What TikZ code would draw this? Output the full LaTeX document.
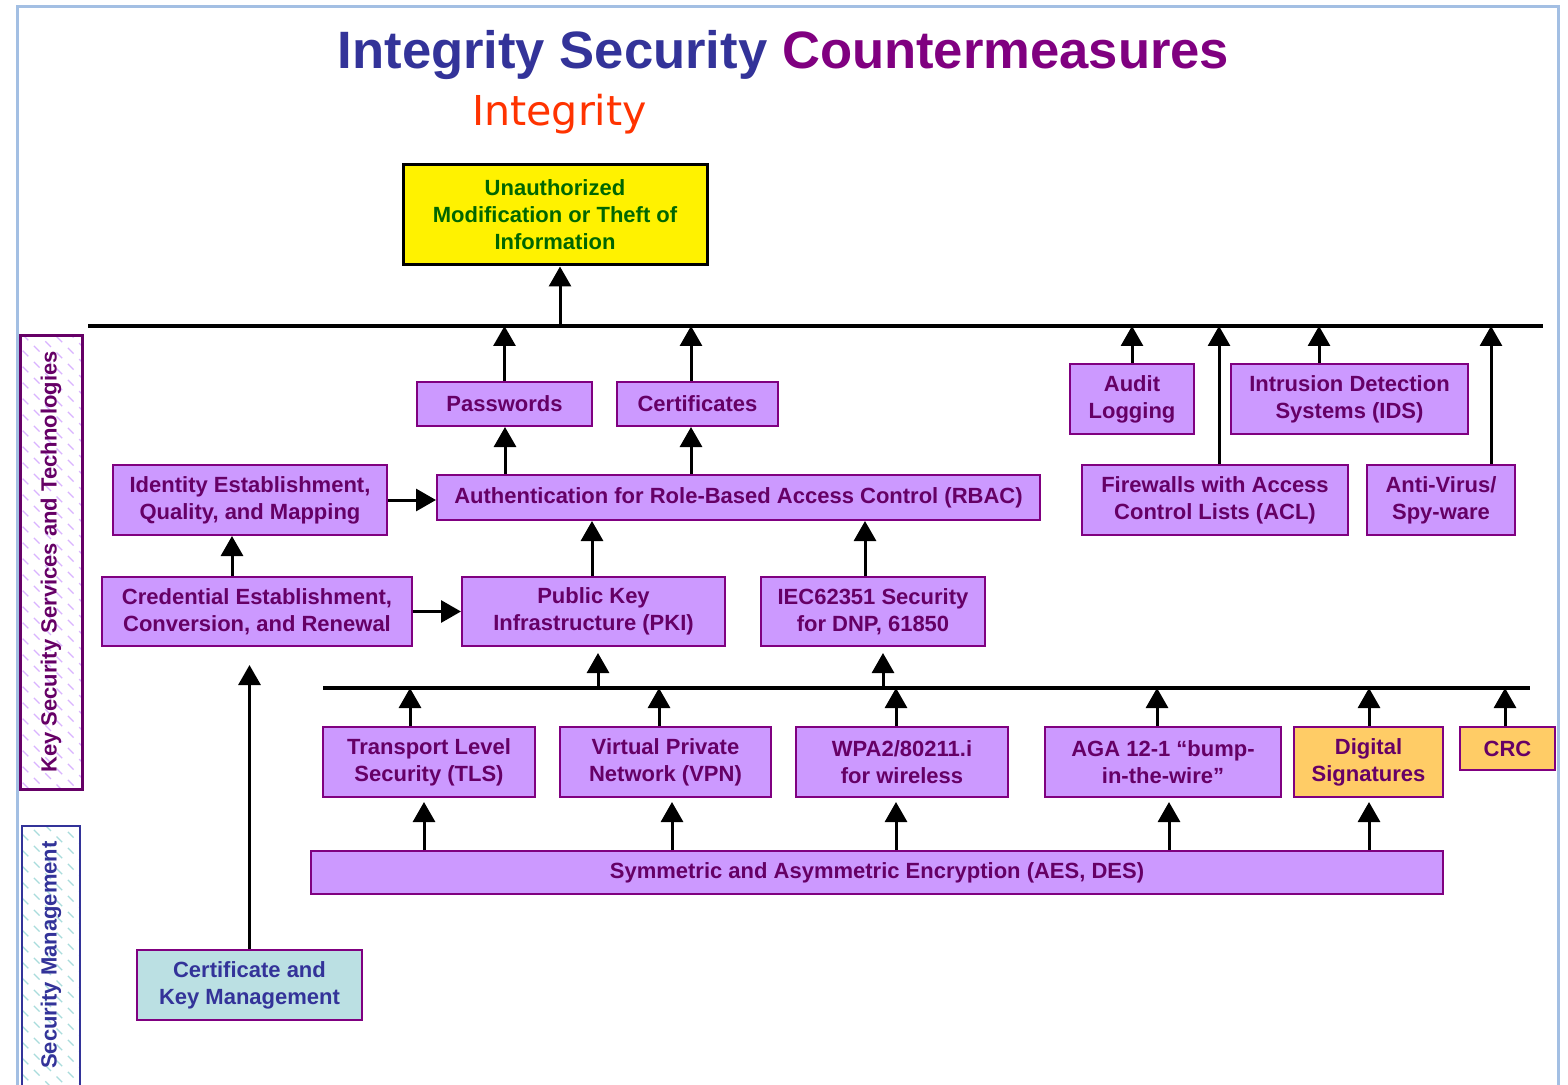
\documentclass[tikz,border=0pt]{standalone}
\usepackage{fontspec}
\setmainfont{Liberation Sans}
\newfontfamily\subfont{DejaVu Sans}
\usetikzlibrary{arrows.meta}
\definecolor{boxfill}{HTML}{CC99FF}
\definecolor{boxline}{HTML}{800080}
\definecolor{boxtext}{HTML}{660066}
\definecolor{tgtgreen}{HTML}{006600}
\definecolor{titleblue}{HTML}{333399}
\definecolor{titlepurple}{HTML}{800080}
\definecolor{suborange}{HTML}{FF3300}
\definecolor{framecol}{HTML}{A3BFE3}
\definecolor{ckmfill}{HTML}{BBE0E3}
\definecolor{digfill}{HTML}{FFCC66}
\definecolor{hatchpurple}{HTML}{D9B3FF}
\definecolor{hatchteal}{HTML}{A8DCDC}
\begin{document}
\begin{tikzpicture}[x=0.5pt,y=-0.5pt,
  boxfont/.style={font=\bfseries\fontsize{11}{13.5}\selectfont},
  box/.style={draw=boxline, fill=boxfill, line width=1pt, text=boxtext, boxfont, align=center, inner sep=0pt},
  orangebox/.style={box, fill=digfill},
  arr/.style={line width=1.5pt, -{Triangle[length=10pt,width=11pt]}},
  busline/.style={line width=2pt},
  hatch/.style={line width=0.7pt, dash pattern=on 4pt off 4pt},
]
\useasboundingbox (0,0) rectangle (1568,1085);
\fill[white] (0,0) rectangle (1568,1085);
% frame
\draw[framecol, line width=1.5pt] (17,1095) -- (17,7) -- (1558,7) -- (1558,1095);

% titles
\node[anchor=base, font=\bfseries\fontsize{26.3}{30}\selectfont, inner sep=0pt] (title) at (783.5,69)
  {\textcolor{titleblue}{Integrity Security} \textcolor{titlepurple}{Countermeasures}};
\node[anchor=base, font=\subfont\fontsize{20.6}{24}\selectfont, text=suborange, inner sep=0pt] (sub) at (559.5,126) {Integrity};

% left labels
\begin{scope}
\clip (20,336) rectangle (82,789);
\foreach \yy in {200,216,...,800} \draw[hatch, hatchpurple] (0,\yy) -- ++(120,120);
\end{scope}
\draw[boxtext, line width=1.5pt] (20,336) rectangle (82,789);
\node[rotate=90, text=boxtext, boxfont] (lbl1) at (51,562) {Key Security Services and Technologies};

\begin{scope}
\clip (22,826) rectangle (80,1095);
\foreach \yy in {700,716,...,1100} \draw[hatch, hatchteal] (0,\yy) -- ++(120,120);
\end{scope}
\draw[titleblue, line width=1pt] (22,1095) -- (22,826) -- (80,826) -- (80,1095);
\node[rotate=90, text=titleblue, boxfont] (lbl2) at (51,955) {Security Management};

% target
\node[draw=black, line width=1.5pt, fill=yellow, text=tgtgreen, boxfont, align=center,
  minimum width=152pt, minimum height=50pt, inner sep=0pt] (tgt) at (555,215)
  {Unauthorized\\Modification or Theft of\\Information};

% nodes
\node[box, minimum width=87.5pt, minimum height=22pt] (pw) at (504.5,404) {Passwords};
\node[box, minimum width=80.5pt, minimum height=22pt] (cert) at (697.5,404) {Certificates};
\node[box, minimum width=62pt, minimum height=35pt] (audit) at (1132,399) {Audit\\Logging};
\node[box, minimum width=118.5pt, minimum height=35pt] (ids) at (1349.5,399) {Intrusion Detection\\Systems (IDS)};
\node[box, minimum width=133pt, minimum height=35pt] (fw) at (1215,500) {Firewalls with Access\\Control Lists (ACL)};
\node[box, minimum width=74pt, minimum height=35pt] (av) at (1441,500) {Anti-Virus/\\Spy-ware};
\node[box, minimum width=137pt, minimum height=35pt] (ident) at (250,500) {Identity Establishment,\\Quality, and Mapping};
\node[box, minimum width=301.5pt, minimum height=22.5pt] (auth) at (738.5,497.5) {Authentication for Role-Based Access Control (RBAC)};
\node[box, minimum width=155pt, minimum height=34.5pt] (cred) at (257,611.5) {Credential Establishment,\\Conversion, and Renewal};
\node[box, minimum width=131.5pt, minimum height=34.5pt] (pki) at (593.5,611.5) {Public Key\\Infrastructure (PKI)};
\node[box, minimum width=112pt, minimum height=34.5pt] (iec) at (873,611.5) {IEC62351 Security\\for DNP, 61850};
\node[box, minimum width=106pt, minimum height=35pt] (tls) at (429,762) {Transport Level\\Security (TLS)};
\node[box, minimum width=105.5pt, minimum height=35pt] (vpn) at (665.5,762) {Virtual Private\\Network (VPN)};
\node[box, minimum width=106pt, minimum height=35pt] (wpa) at (902,762) {WPA2/80211.i\\for wireless};
\node[box, minimum width=118pt, minimum height=35pt] (aga) at (1163,762) {AGA 12-1 “bump-\\in-the-wire”};
\node[orangebox, minimum width=74.5pt, minimum height=35pt] (dig) at (1368.5,762) {Digital\\Signatures};
\node[orangebox, minimum width=47.5pt, minimum height=21.5pt] (crc) at (1507.5,748.5) {CRC};
\node[box, minimum width=566pt, minimum height=21.5pt] (sym) at (877,872.5) {Symmetric and Asymmetric Encryption (AES, DES)};
\node[box, fill=ckmfill, text=titleblue, minimum width=112.5pt, minimum height=35pt] (ckm) at (249.5,985) {Certificate and\\Key Management};

% buses
\coordinate (b1l) at (88,326);
\coordinate (b1r) at (1543,326);
\draw[busline] (b1l) -- (b1r);
\coordinate (b2l) at (323,688);
\coordinate (b2r) at (1530,688);
\draw[busline] (b2l) -- (b2r);

% arrows to top bus / target
\draw[arr] (560,0 |- b1l) -- (560,0 |- tgt.south);
\draw[arr] (pw.north) -- (pw.north |- b1l);
\draw[arr] (691,0 |- cert.north) -- (691,0 |- b1l);
\draw[arr] (audit.north) -- (audit.north |- b1l);
\draw[arr] (1319,0 |- ids.north) -- (1319,0 |- b1l);
\draw[arr] (1219,0 |- fw.north) -- (1219,0 |- b1l);
\draw[arr] (1491,0 |- av.north) -- (1491,0 |- b1l);

% middle arrows
\draw[arr] (505,0 |- auth.north) -- (505,0 |- pw.south);
\draw[arr] (691,0 |- auth.north) -- (691,0 |- cert.south);
\draw[arr] (ident.east) -- (auth.west |- ident.east);
\draw[arr] (cred.east) -- (pki.west);
\draw[arr] (232,0 |- cred.north) -- (232,0 |- ident.south);
\draw[arr] (592,0 |- pki.north) -- (592,0 |- auth.south);
\draw[arr] (865,0 |- iec.north) -- (865,0 |- auth.south);

% lower bus arrows
\draw[arr, shorten >=3pt] (598,0 |- b2l) -- (598,0 |- pki.south);
\draw[arr, shorten >=3pt] (883,0 |- b2l) -- (883,0 |- iec.south);
\draw[arr] (410,0 |- tls.north) -- (410,0 |- b2l);
\draw[arr] (659,0 |- vpn.north) -- (659,0 |- b2l);
\draw[arr] (896,0 |- wpa.north) -- (896,0 |- b2l);
\draw[arr] (1157,0 |- aga.north) -- (1157,0 |- b2l);
\draw[arr] (1369,0 |- dig.north) -- (1369,0 |- b2l);
\draw[arr] (1505,0 |- crc.north) -- (1505,0 |- b2l);

% from encryption
\draw[arr, shorten >=2pt] (424,0 |- sym.north) -- (424,0 |- tls.south);
\draw[arr, shorten >=2pt] (672,0 |- sym.north) -- (672,0 |- vpn.south);
\draw[arr, shorten >=2pt] (896,0 |- sym.north) -- (896,0 |- wpa.south);
\draw[arr, shorten >=2pt] (1169,0 |- sym.north) -- (1169,0 |- aga.south);
\draw[arr, shorten >=2pt] (1369,0 |- sym.north) -- (1369,0 |- dig.south);

% certificate management
\coordinate (ckmend) at (250,665);
\draw[arr] (ckm.north) -- (ckm.north |- ckmend);
\end{tikzpicture}
\end{document}
